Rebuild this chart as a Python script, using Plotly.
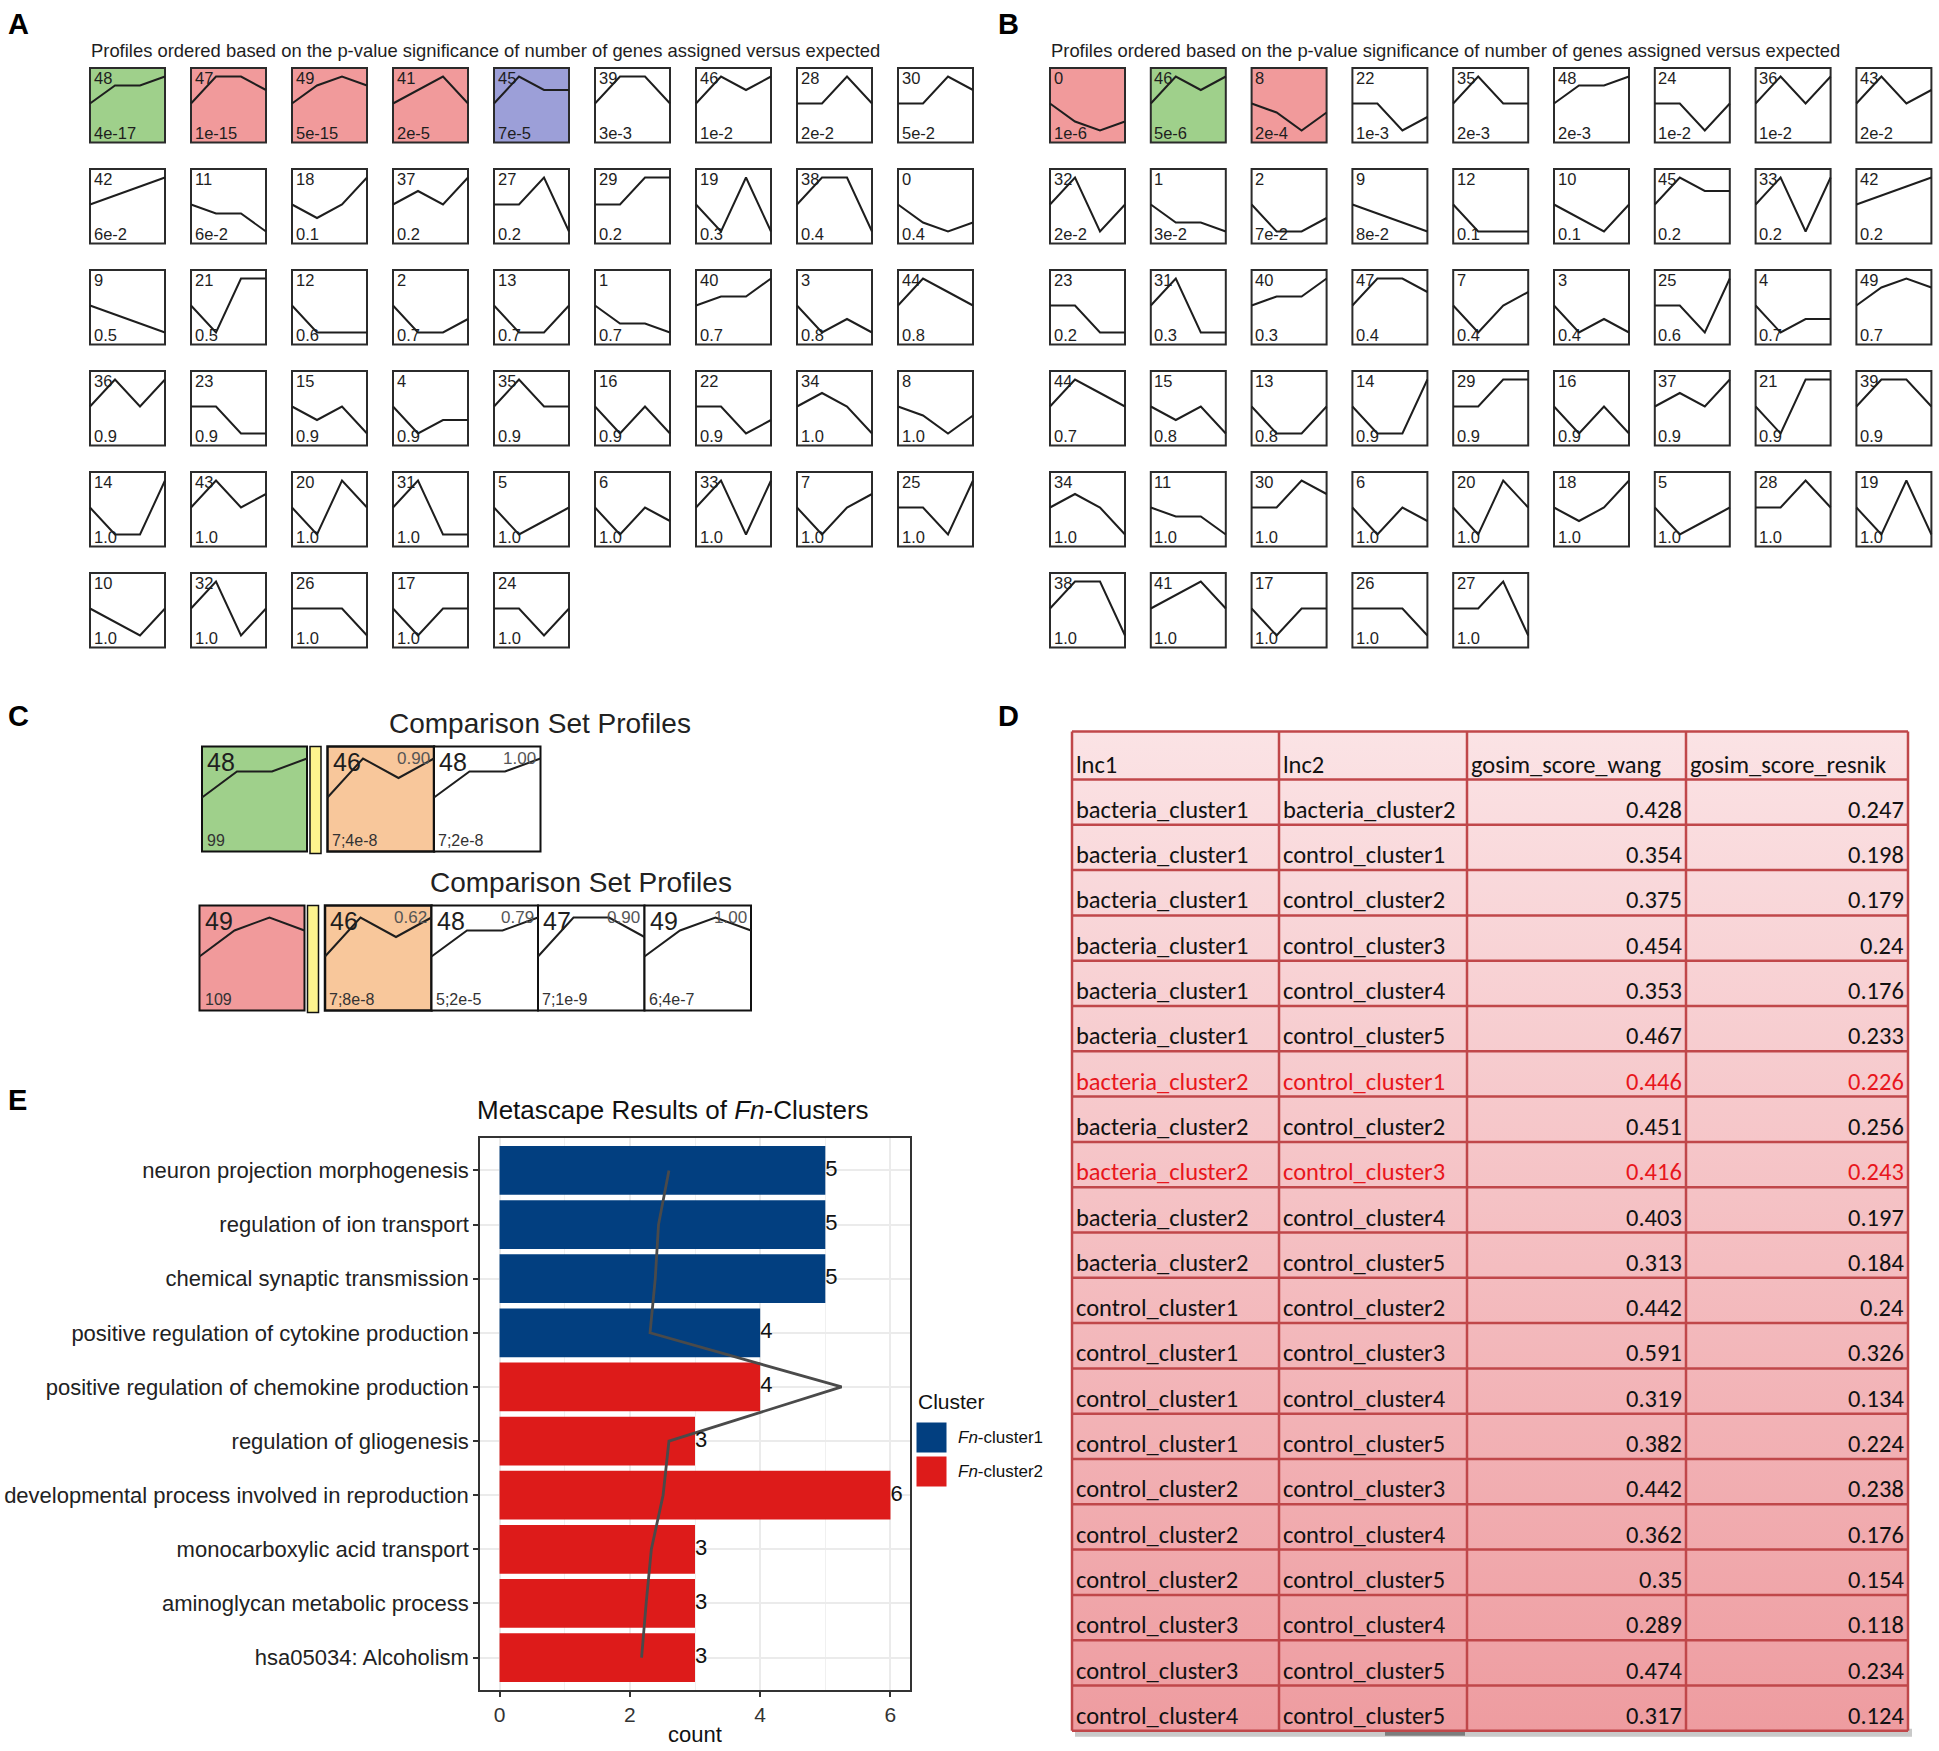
import plotly.graph_objects as go

W, H = 1939, 1751
FONT = "Liberation Sans, Arial, sans-serif"
TFONT = "Carlito, Lato, sans-serif"

# ---------------- data ----------------
# STEM model profiles: profile id -> change at the 4 time points
PROFILE_SHAPES = {
    0: [0, -2, -3, -2], 1: [0, -2, -2, -3], 2: [0, -2, -2, -1], 3: [0, -2, -1, -2],
    4: [0, -2, -1, -1], 5: [0, -2, -1, 0], 6: [0, -2, 0, -1], 7: [0, -2, 0, 1],
    8: [0, -1, -3, -1], 9: [0, -1, -2, -3], 10: [0, -1, -2, 0], 11: [0, -1, -1, -3],
    12: [0, -1, -1, -1], 13: [0, -1, -1, 0], 14: [0, -1, -1, 1], 15: [0, -1, 0, -2],
    16: [0, -1, 0, -1], 17: [0, -1, 0, 0], 18: [0, -1, 0, 2], 19: [0, -1, 1, -1],
    20: [0, -1, 1, 0], 21: [0, -1, 1, 1], 22: [0, 0, -2, -1], 23: [0, 0, -1, -1],
    24: [0, 0, -1, 0], 25: [0, 0, -1, 1], 26: [0, 0, 0, -1], 27: [0, 0, 1, -1],
    28: [0, 0, 1, 0], 29: [0, 0, 1, 1], 30: [0, 0, 2, 1], 31: [0, 1, -1, -1],
    32: [0, 1, -1, 0], 33: [0, 1, -1, 1], 34: [0, 1, 0, -2], 35: [0, 1, 0, 0],
    36: [0, 1, 0, 1], 37: [0, 1, 0, 2], 38: [0, 1, 1, -1], 39: [0, 1, 1, 0],
    40: [0, 1, 1, 3], 41: [0, 1, 2, 0], 42: [0, 1, 2, 3], 43: [0, 2, 0, 1],
    44: [0, 2, 1, 0], 45: [0, 2, 1, 1], 46: [0, 2, 1, 2], 47: [0, 2, 2, 1],
    48: [0, 2, 2, 3], 49: [0, 2, 3, 2],
}

A_ORDER = [48, 47, 49, 41, 45, 39, 46, 28, 30,
           42, 11, 18, 37, 27, 29, 19, 38, 0,
           9, 21, 12, 2, 13, 1, 40, 3, 44,
           36, 23, 15, 4, 35, 16, 22, 34, 8,
           14, 43, 20, 31, 5, 6, 33, 7, 25,
           10, 32, 26, 17, 24]
A_PVALUES = ["4e-17", "1e-15", "5e-15", "2e-5", "7e-5", "3e-3", "1e-2", "2e-2", "5e-2",
             "6e-2", "6e-2", "0.1", "0.2", "0.2", "0.2", "0.3", "0.4", "0.4",
             "0.5", "0.5", "0.6", "0.7", "0.7", "0.7", "0.7", "0.8", "0.8",
             "0.9", "0.9", "0.9", "0.9", "0.9", "0.9", "0.9", "1.0", "1.0",
             "1.0", "1.0", "1.0", "1.0", "1.0", "1.0", "1.0", "1.0", "1.0",
             "1.0", "1.0", "1.0", "1.0", "1.0"]
A_HIGHLIGHT = {48: "green", 47: "red", 49: "red", 41: "red", 45: "blue"}

B_ORDER = [0, 46, 8, 22, 35, 48, 24, 36, 43,
           32, 1, 2, 9, 12, 10, 45, 33, 42,
           23, 31, 40, 47, 7, 3, 25, 4, 49,
           44, 15, 13, 14, 29, 16, 37, 21, 39,
           34, 11, 30, 6, 20, 18, 5, 28, 19,
           38, 41, 17, 26, 27]
B_PVALUES = ["1e-6", "5e-6", "2e-4", "1e-3", "2e-3", "2e-3", "1e-2", "1e-2", "2e-2",
             "2e-2", "3e-2", "7e-2", "8e-2", "0.1", "0.1", "0.2", "0.2", "0.2",
             "0.2", "0.3", "0.3", "0.4", "0.4", "0.4", "0.6", "0.7", "0.7",
             "0.7", "0.8", "0.8", "0.9", "0.9", "0.9", "0.9", "0.9", "0.9",
             "1.0", "1.0", "1.0", "1.0", "1.0", "1.0", "1.0", "1.0", "1.0",
             "1.0", "1.0", "1.0", "1.0", "1.0"]
B_HIGHLIGHT = {0: "red", 46: "green", 8: "red"}

PANEL_TITLE = "Profiles ordered based on the p-value significance of number of genes assigned versus expected"

# Comparison set profiles (panel C)
C1_QUERY, C1_QUERY_COLOR, C1_QUERY_SIZE = 48, "green", "99"
C1_MATCH = [46, 48]
C1_CORR = ["0.90", "1.00"]
C1_STATS = ["7;4e-8", "7;2e-8"]
C2_QUERY, C2_QUERY_COLOR, C2_QUERY_SIZE = 49, "red", "109"
C2_MATCH = [46, 48, 47, 49]
C2_CORR = ["0.62", "0.79", "0.90", "1.00"]
C2_STATS = ["7;8e-8", "5;2e-5", "7;1e-9", "6;4e-7"]

# Table (panel D)
T_HEADER = ["lnc1", "lnc2", "gosim_score_wang", "gosim_score_resnik"]
T_LNC1 = ["bacteria_cluster1"] * 6 + ["bacteria_cluster2"] * 5 + ["control_cluster1"] * 4 + \
         ["control_cluster2"] * 3 + ["control_cluster3"] * 2 + ["control_cluster4"]
T_LNC2 = ["bacteria_cluster2", "control_cluster1", "control_cluster2", "control_cluster3",
          "control_cluster4", "control_cluster5",
          "control_cluster1", "control_cluster2", "control_cluster3", "control_cluster4",
          "control_cluster5",
          "control_cluster2", "control_cluster3", "control_cluster4", "control_cluster5",
          "control_cluster3", "control_cluster4", "control_cluster5",
          "control_cluster4", "control_cluster5",
          "control_cluster5"]
T_WANG = [0.428, 0.354, 0.375, 0.454, 0.353, 0.467, 0.446, 0.451, 0.416, 0.403, 0.313,
          0.442, 0.591, 0.319, 0.382, 0.442, 0.362, 0.35, 0.289, 0.474, 0.317]
T_RESNIK = [0.247, 0.198, 0.179, 0.24, 0.176, 0.233, 0.226, 0.256, 0.243, 0.197, 0.184,
            0.24, 0.326, 0.134, 0.224, 0.238, 0.176, 0.154, 0.118, 0.234, 0.124]
T_HIGHLIGHT_ROWS = [6, 8]

# Bar chart (panel E)
E_TERMS = ["neuron projection morphogenesis", "regulation of ion transport",
           "chemical synaptic transmission", "positive regulation of cytokine production",
           "positive regulation of chemokine production", "regulation of gliogenesis",
           "developmental process involved in reproduction", "monocarboxylic acid transport",
           "aminoglycan metabolic process", "hsa05034: Alcoholism"]
E_COUNTS = [5, 5, 5, 4, 4, 3, 6, 3, 3, 3]
E_CLUSTER = ["Fn-cluster1"] * 4 + ["Fn-cluster2"] * 6
E_LINE = [2.60, 2.44, 2.39, 2.31, 5.25, 2.60, 2.51, 2.33, 2.25, 2.18]

# ---------------- styling ----------------
FILL = {"green": "#9fd08b", "red": "#f19a9b", "blue": "#9c9fd8",
        "orange": "#f8c79b", "yellow": "#fdf38e", "white": "white"}
E_COLORS = {"Fn-cluster1": "#023f80", "Fn-cluster2": "#dd1b1a"}

fig = go.Figure()
shapes = []
annotations = []


def ann(x, y, text, size, xanchor="left", yanchor="middle", color="#1e1e1e", family=FONT, **kw):
    annotations.append(dict(x=x, y=y, xref="x", yref="y", text=text, showarrow=False,
                            xanchor=xanchor, yanchor=yanchor,
                            font=dict(size=size, color=color, family=family), **kw))


def rect(x0, y0, x1, y1, fill, lc="#2b2b2b", lw=2, layer="below"):
    shapes.append(dict(type="rect", xref="x", yref="y", x0=x0, x1=x1, y0=y0, y1=y1,
                       fillcolor=fill, line=dict(color=lc, width=lw), layer=layer))


def profile_xy(pid, x0, y0, w, zero_off, unit):
    vals = PROFILE_SHAPES[pid]
    m = max(abs(v) for v in vals) or 1
    n = len(vals) - 1
    xs = [x0 + w * i / n for i in range(len(vals))]
    ys = [y0 + zero_off - v / m * unit for v in vals]
    return xs, ys


def draw_grid(order, pvals, highlight, gx, gy, px, py, bw=75, bh=74.5):
    lx, ly = [], []
    for i, (pid, pv) in enumerate(zip(order, pvals)):
        r, c = divmod(i, 9)
        x0 = gx + c * px
        y0 = gy + r * py
        rect(x0, y0, x0 + bw, y0 + bh, FILL[highlight.get(pid, "white")])
        xs, ys = profile_xy(pid, x0, y0, bw, 35.5, 27)
        lx += xs + [None]
        ly += ys + [None]
        ann(x0 + 1.5, y0 - 1, str(pid), 16.5, yanchor="top")
        ann(x0 + 1.5, y0 + bh + 1, pv, 16.5, yanchor="bottom")
    fig.add_trace(go.Scatter(x=lx, y=ly, mode="lines", line=dict(color="#1e1e1e", width=2),
                             hoverinfo="skip", showlegend=False, xaxis="x", yaxis="y"))


# ---------------- panels A and B ----------------
draw_grid(A_ORDER, A_PVALUES, A_HIGHLIGHT, 90, 68, 101, 101)
draw_grid(B_ORDER, B_PVALUES, B_HIGHLIGHT, 1050, 68, 100.8, 101)
ann(89, 50, PANEL_TITLE, 18.4)
ann(1049, 50, PANEL_TITLE, 18.4)

# ---------------- panel C ----------------
def draw_comparison(y0, qx, query, qcolor, qsize, matches, corrs, stats, title_x):
    bh = 105
    lx, ly = [], []
    # query profile
    rect(qx, y0, qx + 105, y0 + bh, FILL[qcolor], lc="#111", lw=2)
    xs, ys = profile_xy(query, qx, y0, 105, 51, 39)
    lx += xs + [None]
    ly += ys + [None]
    ann(qx + 3, y0 - 1, str(query), 25, yanchor="top")
    ann(qx + 3, y0 + bh - 1, qsize, 16, yanchor="bottom", color="#333")
    # yellow separator
    rect(qx + 108, y0, qx + 119, y0 + bh + 2, FILL["yellow"], lc="#111", lw=1.5)
    # matching profiles
    mx = qx + 125.5
    for k, (pid, cr, st) in enumerate(zip(matches, corrs, stats)):
        x0 = mx + k * 106.5
        rect(x0, y0, x0 + 106.5, y0 + bh, FILL["orange"] if k == 0 else "white",
             lc="#111", lw=2.5 if k == 0 else 2)
        xs, ys = profile_xy(pid, x0, y0, 106.5, 51, 39)
        lx += xs + [None]
        ly += ys + [None]
        ann(x0 + 3, y0 - 1, str(pid), 25, yanchor="top")
        ann(x0 + 104, y0, cr, 17, xanchor="right", yanchor="top", color="#555")
        ann(x0 + 2, y0 + bh - 1, st, 16, yanchor="bottom", color="#333")
    fig.add_trace(go.Scatter(x=lx, y=ly, mode="lines", line=dict(color="#1e1e1e", width=2),
                             hoverinfo="skip", showlegend=False, xaxis="x", yaxis="y"))
    ann(title_x, y0 - 23, "Comparison Set Profiles", 28, xanchor="center", color="#222")


draw_comparison(746.5, 202, C1_QUERY, C1_QUERY_COLOR, C1_QUERY_SIZE, C1_MATCH, C1_CORR, C1_STATS, 540)
draw_comparison(905.5, 199.5, C2_QUERY, C2_QUERY_COLOR, C2_QUERY_SIZE, C2_MATCH, C2_CORR, C2_STATS, 581)

# ---------------- panel D (table) ----------------
T_COLS = [1072, 1279, 1467, 1686, 1908]
T_TOP, T_HEAD, T_ROW = 731.5, 48, 45.3
n_rows = len(T_LNC1)
row_edges = [T_TOP, T_TOP + T_HEAD] + [T_TOP + T_HEAD + T_ROW * (i + 1) for i in range(n_rows)]
T_BOTTOM = row_edges[-1]

# shadow
rect(T_COLS[0] + 3, T_BOTTOM - 2, T_COLS[-1] + 4, T_BOTTOM + 6, "#c9c9c9", lc="rgba(0,0,0,0)", lw=0)
rect(1385, T_BOTTOM - 2, 1465, T_BOTTOM + 5, "#7d7d7d", lc="rgba(0,0,0,0)", lw=0)

fig.add_trace(go.Scatter(
    x=[T_COLS[0], T_COLS[-1], T_COLS[-1], T_COLS[0], T_COLS[0]],
    y=[T_TOP, T_TOP, T_BOTTOM, T_BOTTOM, T_TOP],
    mode="lines", fill="toself", line=dict(width=0, color="rgba(0,0,0,0)"),
    fillgradient=dict(type="vertical", colorscale=[[0, "#fbe3e5"], [1, "#ee9ca0"]],
                      start=T_TOP, stop=T_BOTTOM),
    hoverinfo="skip", showlegend=False, xaxis="x", yaxis="y"))

for yy in row_edges:
    shapes.append(dict(type="line", xref="x", yref="y", x0=T_COLS[0], x1=T_COLS[-1], y0=yy, y1=yy,
                       line=dict(color="#c0474a", width=2.5), layer="above"))
for xx in T_COLS:
    shapes.append(dict(type="line", xref="x", yref="y", x0=xx, x1=xx, y0=T_TOP, y1=T_BOTTOM,
                       line=dict(color="#c0474a", width=2.5), layer="above"))

TSIZE = 24.5
for j, htxt in enumerate(T_HEADER):
    ann(T_COLS[j] + 2, T_TOP + T_HEAD * 0.7, htxt, TSIZE, family=TFONT, color="#111")
for i in range(n_rows):
    top = row_edges[i + 1]
    yc = top + T_ROW * 0.67
    col = "#e8161c" if i in T_HIGHLIGHT_ROWS else "#111"
    ann(T_COLS[0] + 2, yc, T_LNC1[i], TSIZE, family=TFONT, color=col)
    ann(T_COLS[1] + 2, yc, T_LNC2[i], TSIZE, family=TFONT, color=col)
    ann(T_COLS[3] - 2, yc, f"{T_WANG[i]:g}", TSIZE, xanchor="right", family=TFONT, color=col)
    ann(T_COLS[4] - 2, yc, f"{T_RESNIK[i]:g}", TSIZE, xanchor="right", family=TFONT, color=col)

# ---------------- panel E (bar chart) ----------------
for cl in ["Fn-cluster1", "Fn-cluster2"]:
    idx = [i for i, c in enumerate(E_CLUSTER) if c == cl]
    fig.add_trace(go.Bar(
        x=[E_COUNTS[i] for i in idx], y=[E_TERMS[i] for i in idx], orientation="h",
        width=0.9, marker=dict(color=E_COLORS[cl], line=dict(width=0)), name=cl,
        showlegend=False, xaxis="x2", yaxis="y2", hoverinfo="x+y"))
fig.add_trace(go.Scatter(x=E_LINE, y=E_TERMS, mode="lines", line=dict(color="#4a4a4a", width=2.8),
                         showlegend=False, xaxis="x2", yaxis="y2", hoverinfo="skip"))
fig.add_trace(go.Scatter(x=E_COUNTS, y=E_TERMS, mode="text", text=[str(c) for c in E_COUNTS],
                         textposition="middle right",
                         textfont=dict(size=22, color="#111", family=FONT),
                         showlegend=False, xaxis="x2", yaxis="y2", hoverinfo="skip"))

ann(673, 1110, "Metascape Results of <i>Fn</i>-Clusters", 26, xanchor="center", color="#111")

# manual legend (ggplot style)
ann(916, 1401, "Cluster", 21, color="#111")
for k, cl in enumerate(["Fn-cluster1", "Fn-cluster2"]):
    ky = 1422 + k * 34
    rect(916, ky, 947, ky + 31, E_COLORS[cl], lc="white", lw=1, layer="above")
    ann(956, ky + 15.5, "<i>Fn</i>-" + cl.split("-")[1], 17, color="#111")

# panel letters
for letter, lx_, ly_ in [("A", 6, 24), ("B", 996, 24), ("C", 6, 716), ("D", 996, 716), ("E", 6, 1100)]:
    ann(lx_, ly_, "<b>" + letter + "</b>", 29, color="black")

# ---------------- layout ----------------
fig.update_layout(
    width=W, height=H, margin=dict(l=0, r=0, t=0, b=0),
    paper_bgcolor="white", plot_bgcolor="white",
    shapes=shapes, annotations=annotations,
    barmode="overlay", bargap=0.1,
    font=dict(family=FONT),
    xaxis=dict(domain=[0, 1], range=[0, W], visible=False, fixedrange=True),
    yaxis=dict(domain=[0, 1], range=[H, 0], visible=False, fixedrange=True),
    xaxis2=dict(domain=[480 / W, 910 / W], anchor="y2", range=[-0.3, 6.3],
                tickvals=[0, 2, 4, 6], ticks="outside", ticklen=5, tickwidth=1.5,
                tickcolor="#333", showline=True, mirror=True, linecolor="#333", linewidth=1.5,
                showgrid=True, gridcolor="#ebebeb", gridwidth=1.8, zeroline=False,
                minor=dict(tickvals=[1, 3, 5], showgrid=True, gridcolor="#f0f0f0", gridwidth=1),
                tickfont=dict(size=21, color="#333"),
                title=dict(text="count", font=dict(size=22, color="#111"), standoff=2)),
    yaxis2=dict(domain=[1 - 1690 / H, 1 - 1138 / H], anchor="x2", type="category",
                categoryorder="array", categoryarray=E_TERMS[::-1], range=[-0.6, 9.6],
                ticks="outside", ticklen=5, tickwidth=1.5, tickcolor="#333",
                showline=True, mirror=True, linecolor="#333", linewidth=1.5,
                showgrid=True, gridcolor="#ebebeb", gridwidth=1.8, zeroline=False,
                tickfont=dict(size=22, color="#222")),
)

fig.write_html("out.html", config={"displayModeBar": False},
               post_script="document.body.style.margin='0';")
